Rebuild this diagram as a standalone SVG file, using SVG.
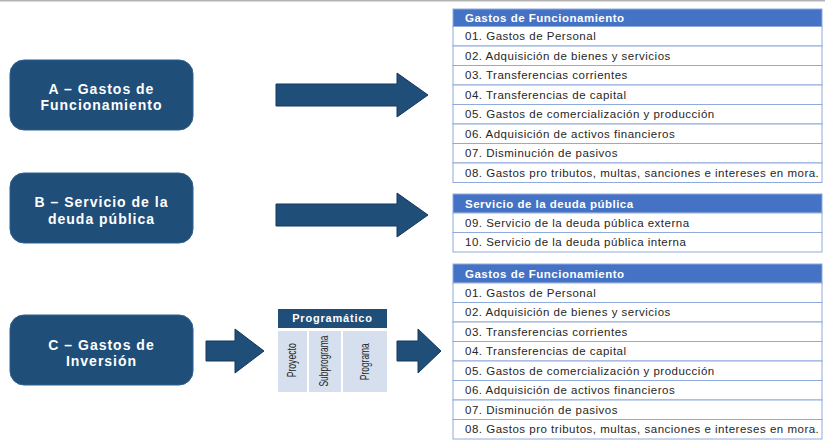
<svg xmlns="http://www.w3.org/2000/svg" width="825" height="444" viewBox="0 0 825 444">
<style>
.bg{fill:#ffffff}
.box{fill:#1F4E79;stroke:#2E5F8E;stroke-width:1}
.boxt{font-family:"Liberation Sans",Arial,sans-serif;font-weight:bold;font-size:14px;letter-spacing:1px;fill:#ffffff;text-anchor:middle}
.arrow{fill:#1F4E79;stroke:#17375E;stroke-width:1}
.hdr{fill:#4472C4;stroke:#8FAADC;stroke-width:1}
.hdrt{font-family:"Liberation Sans",Arial,sans-serif;font-weight:bold;font-size:11.5px;letter-spacing:0.5px;fill:#ffffff}
.row{fill:#ffffff;stroke:#8FAADC;stroke-width:1}
.rowt{font-family:"Liberation Sans",Arial,sans-serif;font-size:11.5px;letter-spacing:0.5px;fill:#262626}
.phdr{fill:#1F4E79}
.phdrt{font-family:"Liberation Sans",Arial,sans-serif;font-weight:bold;font-size:11px;letter-spacing:0.8px;fill:#ffffff;text-anchor:middle}
.pcol{fill:#D6DFEE}
.pcolt{font-family:"Liberation Sans",Arial,sans-serif;font-size:12.5px;fill:#262626;text-anchor:middle}
</style>
<rect class="bg" x="0" y="0" width="825" height="444"/>
<rect x="0" y="0" width="825" height="1.5" fill="#B4B4B4"/>

<g id="nodeA">
<rect class="box" x="10" y="60" width="183" height="70" rx="14"/>
<text class="boxt" x="101.5" y="93.5">A – Gastos de</text>
<text class="boxt" x="101.5" y="109.5">Funcionamiento</text>
</g>
<g id="nodeB">
<rect class="box" x="10" y="173" width="183" height="70" rx="14"/>
<text class="boxt" x="101.5" y="207">B – Servicio de la</text>
<text class="boxt" x="101.5" y="223.5">deuda pública</text>
</g>
<g id="nodeC">
<rect class="box" x="10" y="315" width="183" height="70" rx="14"/>
<text class="boxt" x="101.5" y="349.5">C – Gastos de</text>
<text class="boxt" x="101.5" y="365.5">Inversión</text>
</g>

<g id="programatico">
<rect class="phdr" x="278" y="309" width="109" height="19"/>
<text class="phdrt" x="332.5" y="322">Programático</text>
<rect class="pcol" x="278" y="331" width="29" height="61"/>
<rect class="pcol" x="309" y="331" width="32" height="61"/>
<rect class="pcol" x="343" y="331" width="44" height="61"/>
<text class="pcolt" transform="translate(295.8,360.3) rotate(-90)" textLength="34" lengthAdjust="spacingAndGlyphs">Proyecto</text>
<text class="pcolt" transform="translate(327.5,361) rotate(-90)" textLength="51" lengthAdjust="spacingAndGlyphs">Subprograma</text>
<text class="pcolt" transform="translate(369.2,361.7) rotate(-90)" textLength="37" lengthAdjust="spacingAndGlyphs">Programa</text>
</g>

<g id="tabla-funcionamiento-1">
<rect class="hdr" x="453" y="9" width="369" height="17.5"/>
<text class="hdrt" x="465" y="22">Gastos de Funcionamiento</text>
<rect class="row" x="453" y="26.5" width="369" height="19.5"/>
<text class="rowt" x="465" y="40.3">01. Gastos de Personal</text>
<rect class="row" x="453" y="46" width="369" height="19.5"/>
<text class="rowt" x="465" y="59.8">02. Adquisición de bienes y servicios</text>
<rect class="row" x="453" y="65.5" width="369" height="19.5"/>
<text class="rowt" x="465" y="79.3">03. Transferencias corrientes</text>
<rect class="row" x="453" y="85" width="369" height="19.5"/>
<text class="rowt" x="465" y="98.8">04. Transferencias de capital</text>
<rect class="row" x="453" y="104.5" width="369" height="19.5"/>
<text class="rowt" x="465" y="118.3">05. Gastos de comercialización y producción</text>
<rect class="row" x="453" y="124" width="369" height="19.5"/>
<text class="rowt" x="465" y="137.8">06. Adquisición de activos financieros</text>
<rect class="row" x="453" y="143.5" width="369" height="19.5"/>
<text class="rowt" x="465" y="157.3">07. Disminución de pasivos</text>
<rect class="row" x="453" y="163" width="369" height="19.5"/>
<text class="rowt" x="465" y="176.8">08. Gastos pro tributos, multas, sanciones e intereses en mora.</text>
</g>

<g id="tabla-deuda">
<rect class="hdr" x="453" y="194" width="369" height="19"/>
<text class="hdrt" x="465" y="207.8">Servicio de la deuda pública</text>
<rect class="row" x="453" y="213" width="369" height="19.5"/>
<text class="rowt" x="465" y="226.8">09. Servicio de la deuda pública externa</text>
<rect class="row" x="453" y="232.5" width="369" height="19.5"/>
<text class="rowt" x="465" y="246.3">10. Servicio de la deuda pública interna</text>
</g>

<g id="tabla-funcionamiento-2">
<rect class="hdr" x="453" y="264" width="369" height="19"/>
<text class="hdrt" x="465" y="277.8">Gastos de Funcionamiento</text>
<rect class="row" x="453" y="283" width="369" height="19.5"/>
<text class="rowt" x="465" y="296.8">01. Gastos de Personal</text>
<rect class="row" x="453" y="302.5" width="369" height="19.5"/>
<text class="rowt" x="465" y="316.3">02. Adquisición de bienes y servicios</text>
<rect class="row" x="453" y="322" width="369" height="19.5"/>
<text class="rowt" x="465" y="335.8">03. Transferencias corrientes</text>
<rect class="row" x="453" y="341.5" width="369" height="19.5"/>
<text class="rowt" x="465" y="355.3">04. Transferencias de capital</text>
<rect class="row" x="453" y="361" width="369" height="19.5"/>
<text class="rowt" x="465" y="374.8">05. Gastos de comercialización y producción</text>
<rect class="row" x="453" y="380.5" width="369" height="19.5"/>
<text class="rowt" x="465" y="394.3">06. Adquisición de activos financieros</text>
<rect class="row" x="453" y="400" width="369" height="19.5"/>
<text class="rowt" x="465" y="413.8">07. Disminución de pasivos</text>
<rect class="row" x="453" y="419.5" width="369" height="19.5"/>
<text class="rowt" x="465" y="433.3">08. Gastos pro tributos, multas, sanciones e intereses en mora.</text>
</g>

<g id="connectors">
<polygon class="arrow" points="276,84 397,84 397,73 428,95 397,117 397,106 276,106"/>
<polygon class="arrow" points="276,204 397,204 397,193 428,215 397,237 397,226 276,226"/>
<polygon class="arrow" points="206,341 235,341 235,329 264,351 235,373 235,361 206,361"/>
<polygon class="arrow" points="397,341 418,341 418,329 441,351 418,373 418,361 397,361"/>
</g>
</svg>
